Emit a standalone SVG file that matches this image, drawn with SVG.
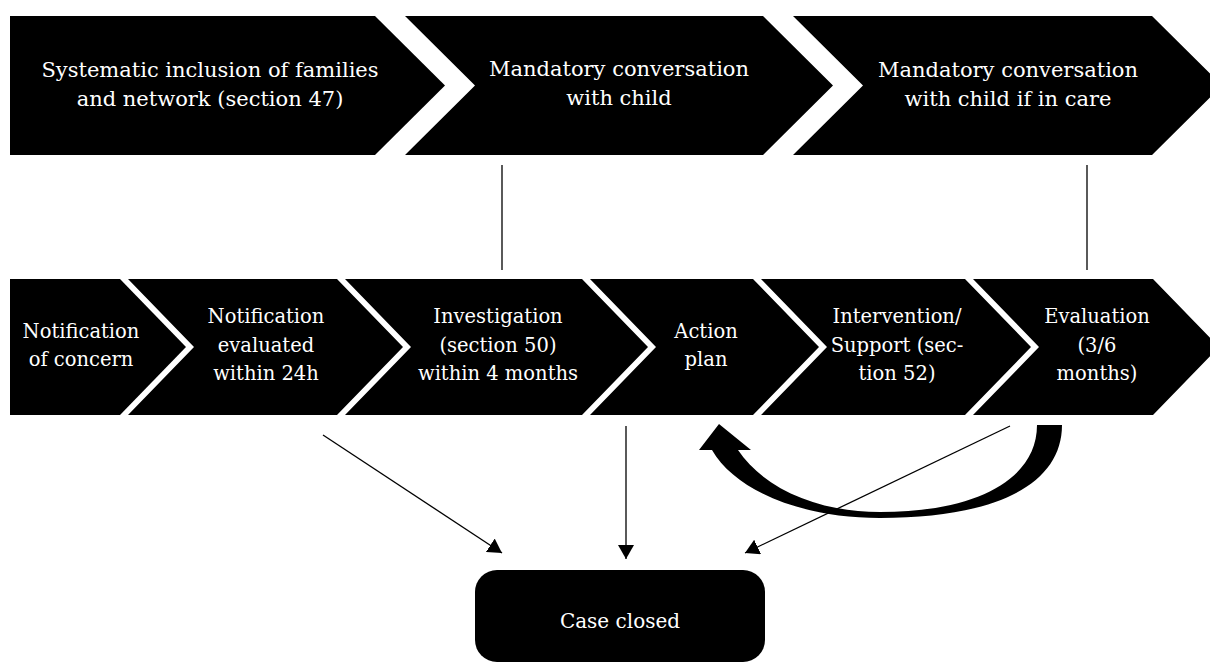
<svg xmlns="http://www.w3.org/2000/svg" width="1210" height="664" viewBox="0 0 1210 664">
<style>
.s{fill:#000}
.t{fill:#fff;font-family:"DejaVu Serif","Liberation Serif",serif;text-anchor:middle}
.tt{font-size:21px}
.tb{font-size:19.5px}
.ln{stroke:#000;stroke-width:1.3;fill:none}
</style>
<defs>
<marker id="ah" viewBox="0 0 14 16" refX="14" refY="8" markerWidth="14" markerHeight="16" markerUnits="userSpaceOnUse" orient="auto">
<path d="M0,0 L14,8 L0,16 Z" fill="#000"/>
</marker>
</defs>
<rect width="1210" height="664" fill="#fff"/>

<g id="top1"><polygon class="s" points="10,16 375,16 445,85.5 375,155 10,155"/>
<text class="t tt" x="210" y="77">Systematic inclusion of families</text><text class="t tt" x="210" y="106">and network (section 47)</text></g>
<g id="top2"><polygon class="s" points="405,16 763,16 833,85.5 763,155 405,155 475,85.5"/>
<text class="t tt" x="619" y="76">Mandatory conversation</text><text class="t tt" x="619" y="105">with child</text></g>
<g id="top3"><polygon class="s" points="793,16 1152,16 1222,85.5 1152,155 793,155 863,85.5"/>
<text class="t tt" x="1008" y="77">Mandatory conversation</text><text class="t tt" x="1008" y="106">with child if in care</text></g>

<g id="b1"><polygon class="s" points="10,279 120,279 186,347 120,415 10,415"/>
<text class="t tb" x="81" y="338">Notification</text><text class="t tb" x="81" y="366">of concern</text></g>
<g id="b2"><polygon class="s" points="128,279 337,279 403,347 337,415 128,415 194,347"/>
<text class="t tb" x="266" y="323">Notification</text><text class="t tb" x="266" y="351.5">evaluated</text><text class="t tb" x="266" y="380">within 24h</text></g>
<g id="b3"><polygon class="s" points="345,279 582,279 648,347 582,415 345,415 411,347"/>
<text class="t tb" x="498" y="323">Investigation</text><text class="t tb" x="498" y="351.5">(section 50)</text><text class="t tb" x="498" y="380">within 4 months</text></g>
<g id="b4"><polygon class="s" points="590,279 753,279 819,347 753,415 590,415 656,347"/>
<text class="t tb" x="706" y="338">Action</text><text class="t tb" x="706" y="366">plan</text></g>
<g id="b5"><polygon class="s" points="761,279 965,279 1031,347 965,415 761,415 827,347"/>
<text class="t tb" x="897" y="323">Intervention/</text><text class="t tb" x="897" y="351.5">Support (sec-</text><text class="t tb" x="897" y="380">tion 52)</text></g>
<g id="b6"><polygon class="s" points="973,279 1153,279 1219,347 1153,415 973,415 1039,347"/>
<text class="t tb" x="1097" y="323">Evaluation</text><text class="t tb" x="1097" y="351.5">(3/6</text><text class="t tb" x="1097" y="380">months)</text></g>

<g id="closed"><rect class="s" x="475" y="570" width="290" height="92" rx="22"/>
<text class="t" style="font-size:20px" x="620" y="628">Case closed</text></g>

<g id="connectors">
<line class="ln" x1="502" y1="165" x2="502" y2="270"/>
<line class="ln" x1="1087" y1="165" x2="1087" y2="270"/>
<line class="ln" x1="323" y1="435" x2="502" y2="553" marker-end="url(#ah)"/>
<line class="ln" x1="626" y1="426" x2="626" y2="559" marker-end="url(#ah)"/>
<line class="ln" x1="1010" y1="426" x2="745" y2="553" marker-end="url(#ah)"/>
<path class="s" d="M1062,425 C1062,485 995,518 880,518 C800,518 735,490 712,450 L699,450 L719,424 L751,450 L738,450 C765,490 820,512 880,512 C975,512 1037,480 1037,425 Z"/>
</g>
</svg>
